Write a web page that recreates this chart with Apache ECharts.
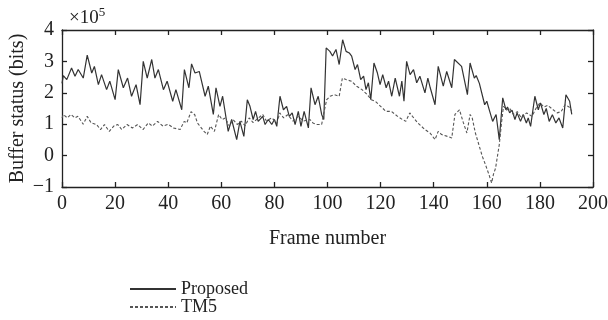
<!doctype html>
<html>
<head>
<meta charset="utf-8">
<script src="https://cdn.jsdelivr.net/npm/echarts@6/dist/echarts.min.js"></script>
<style>
  html, body { margin: 0; padding: 0; background: #fff; }
  #chart { width: 608px; height: 320px; }
</style>
</head>
<body>
<div id="chart"></div>
<script>
// values in units of 1e5 bits
var propFrames = [0,0.5,1.8,3.6,4.9,6.1,8,9.5,11.2,12.2,13.7,14.9,16.8,18,20,21.2,23.1,24.7,26.2,27.9,29.4,30.6,32.1,33.8,35,36.3,38.2,39.6,41.7,42.9,45.1,46.1,47.8,48.8,50.1,51.7,53.9,55.1,57,58,59.5,60.5,62.6,63.9,65.8,67,68.5,69.8,70.8,72,72.9,73.9,75.6,76.5,77.7,79,80,80.9,82.1,83.4,84.6,85.6,86.7,87.8,89,90,91.2,92.8,93.8,95.3,96.5,97.8,98.6,99.5,100.9,101.9,103.2,104.4,105.7,107,108.2,109.1,110.4,111.3,112.5,113.6,114.5,115.4,116.3,117.5,118.8,119.8,120.8,122.1,123,124.2,125.5,127.1,128,128.8,129.8,131.1,132.4,133.6,134.8,136.7,137.8,138.7,140.5,141.7,143.6,144.9,146.8,147.8,150.5,152.7,153.7,155.3,156,157.2,159.2,160,161.1,162.2,163.5,164.7,166,167.2,167.8,168.6,169.5,170.6,171.4,172.7,173.7,174.9,175.6,176.5,178.1,179.4,180.2,181.5,182.4,183.5,184.7,186,187.2,188.6,189.8,191.2,192];
var propValues = [2.3,2.55,2.42,2.79,2.53,2.74,2.47,3.2,2.63,2.84,2.26,2.58,2.1,2.37,1.78,2.74,2.16,2.47,1.89,2.26,1.62,3.0,2.47,3.06,2.47,2.74,2.1,2.37,1.73,2.1,1.46,2.74,2.16,2.92,2.63,2.68,1.89,2.21,1.31,2.16,1.57,1.89,0.77,1.15,0.51,1.09,0.61,1.78,1.57,1.15,1.41,1.09,1.25,0.99,1.15,0.99,1.15,0.93,1.89,1.46,1.57,1.25,1.36,0.99,1.41,0.93,1.41,0.88,2.16,1.62,1.89,1.31,1.15,3.43,3.32,3.17,3.38,2.9,3.69,3.32,3.27,3.17,2.74,2.9,2.42,2.53,2.1,2.32,1.78,2.95,2.63,2.26,2.58,2.16,2.37,1.89,2.47,1.89,2.37,1.73,3.0,2.58,2.74,2.32,2.53,2.0,2.47,2.16,1.62,2.84,2.21,2.68,2.16,3.06,2.84,1.94,2.95,2.47,2.55,2.3,1.62,1.73,1.41,1.09,1.31,0.51,1.84,1.46,1.55,1.36,1.45,1.15,1.36,1.09,1.31,1.04,1.2,0.93,1.89,1.46,1.68,1.31,1.5,1.09,1.3,1.04,1.2,0.88,1.94,1.73,1.31];

var tm5Frames = [0,0.5,2,3.4,4.9,6,8,9.5,11,13,14.5,16,17.8,19.5,21,22.5,24.5,26.5,28.5,30.5,32.5,34,36,38,40,42,44.5,46,47,48.6,50,51,53.5,54.7,55.9,57.4,59,60.3,61.5,63,64.4,66,67.5,69,70.5,72,74,75.6,77,79,81,82,83.5,85,87,89,91,93.4,94.5,96,97.8,98.6,99.7,101,102.5,104.4,105.6,107,109,111,113,115,116.5,118,120,122,124,126.4,128.2,129.5,131,132,134,136.7,138.6,140.5,141.7,143,144.9,146.8,148,149.7,151.2,152.5,153.7,154.5,155.7,157,158.3,159.5,160.8,161.8,162.5,163.3,164,164.7,165.6,166.3,167.5,168.5,170,171.5,173,175,177,178.5,180,181.5,183,185,186.5,188,189.5,191,192];
var tm5Values = [1.2,1.31,1.2,1.31,1.2,1.25,1.0,1.25,1.04,0.99,0.83,0.99,0.77,0.94,0.99,0.83,0.99,0.88,0.99,0.83,1.04,0.94,1.09,0.94,1.0,0.88,0.83,1.09,1.04,1.4,1.3,1.04,0.77,0.67,0.94,0.77,1.31,1.15,1.2,0.94,1.15,0.99,1.1,0.95,1.2,1.05,1.2,1.31,1.1,1.2,1.05,1.36,1.2,1.3,1.1,1.25,1.1,1.15,1.04,0.99,0.99,1.36,1.78,1.89,1.94,1.89,2.47,2.42,2.37,2.21,2.1,1.94,1.78,1.73,1.57,1.41,1.41,1.25,1.15,1.09,1.36,1.25,1.04,0.83,0.72,0.51,0.77,0.67,0.62,0.56,1.31,1.46,1.04,0.72,1.31,1.2,0.72,0.35,-0.02,-0.29,-0.6,-0.87,-0.6,-0.4,-0.34,0.35,1.09,1.57,1.45,1.52,1.31,1.4,1.2,1.36,1.25,1.5,1.68,1.55,1.6,1.46,1.36,1.4,1.62,1.55,1.41];

var xTicks = [0, 200, 20];
var yTicks = [-1, 4, 1];

function pairs(xs, ys) {
  var out = [];
  for (var i = 0; i < xs.length; i++) out.push([xs[i], ys[i]]);
  return out;
}

var serif = '"Liberation Serif", "DejaVu Serif", serif';
var axisCommon = {
  axisLine: { onZero: false, lineStyle: { color: '#222', width: 1.3 } },
  axisTick: { inside: true, length: 5, lineStyle: { color: '#222', width: 1.3 } },
  splitLine: { show: false }
};

function legendBox(name, top) {
  return {
    left: 124, top: top, orient: 'vertical',
    itemWidth: 46, itemHeight: 12,
    itemStyle: { opacity: 0 },
    textStyle: { fontFamily: serif, fontSize: 18, color: '#222' },
    data: [name]
  };
}

var myChart = echarts.init(document.getElementById('chart'));
var option = {
  animation: false,
  backgroundColor: '#fff',
  textStyle: { fontFamily: serif },
  grid: { left: 62, right: 15, top: 30, bottom: 133, containLabel: false, outerBoundsMode: 'none' },
  xAxis: [
    Object.assign({
      type: 'value', min: xTicks[0], max: xTicks[1], interval: xTicks[2],
      name: 'Frame number', nameLocation: 'middle', nameGap: 42,
      nameTextStyle: { fontFamily: serif, fontSize: 20, color: '#222' },
      axisLabel: { fontFamily: serif, fontSize: 20, color: '#222', margin: 7 }
    }, axisCommon),
    Object.assign({
      type: 'value', position: 'top', min: xTicks[0], max: xTicks[1], interval: xTicks[2],
      axisLabel: { show: false }
    }, axisCommon)
  ],
  yAxis: [
    Object.assign({
      type: 'value', min: yTicks[0], max: yTicks[1], interval: yTicks[2],
      name: 'Buffer status (bits)', nameLocation: 'middle', nameGap: 34, nameRotate: 90,
      nameMoveOverlap: false,
      nameTextStyle: { fontFamily: serif, fontSize: 20, color: '#222' },
      axisLabel: {
        fontFamily: serif, fontSize: 20, color: '#222', margin: 8,
        formatter: function (v) { return v < 0 ? '\u2212' + (-v) : String(v); }
      }
    }, axisCommon),
    Object.assign({
      type: 'value', position: 'right', min: yTicks[0], max: yTicks[1], interval: yTicks[2],
      axisLabel: { show: false }
    }, axisCommon)
  ],
  legend: [legendBox('Proposed', 275), legendBox('TM5', 293)],
  graphic: [{
    type: 'text', left: 69, top: 6,
    style: {
      text: '{a|\u00d710}{b|5}',
      rich: {
        a: { fontFamily: serif, fontSize: 19, fill: '#222', verticalAlign: 'bottom' },
        b: { fontFamily: serif, fontSize: 13, fill: '#222', verticalAlign: 'top', padding: [0, 0, 9, 0] }
      }
    }
  }],
  series: [
    {
      name: 'Proposed', type: 'line', symbol: 'none',
      data: pairs(propFrames, propValues),
      lineStyle: { color: '#333', width: 1.2 },
      itemStyle: { color: '#333' }
    },
    {
      name: 'TM5', type: 'line', symbol: 'none',
      data: pairs(tm5Frames, tm5Values),
      lineStyle: { color: '#555', width: 1.1, type: [3, 2] },
      itemStyle: { color: '#555' }
    }
  ]
};
myChart.setOption(option);
</script>
</body>
</html>
